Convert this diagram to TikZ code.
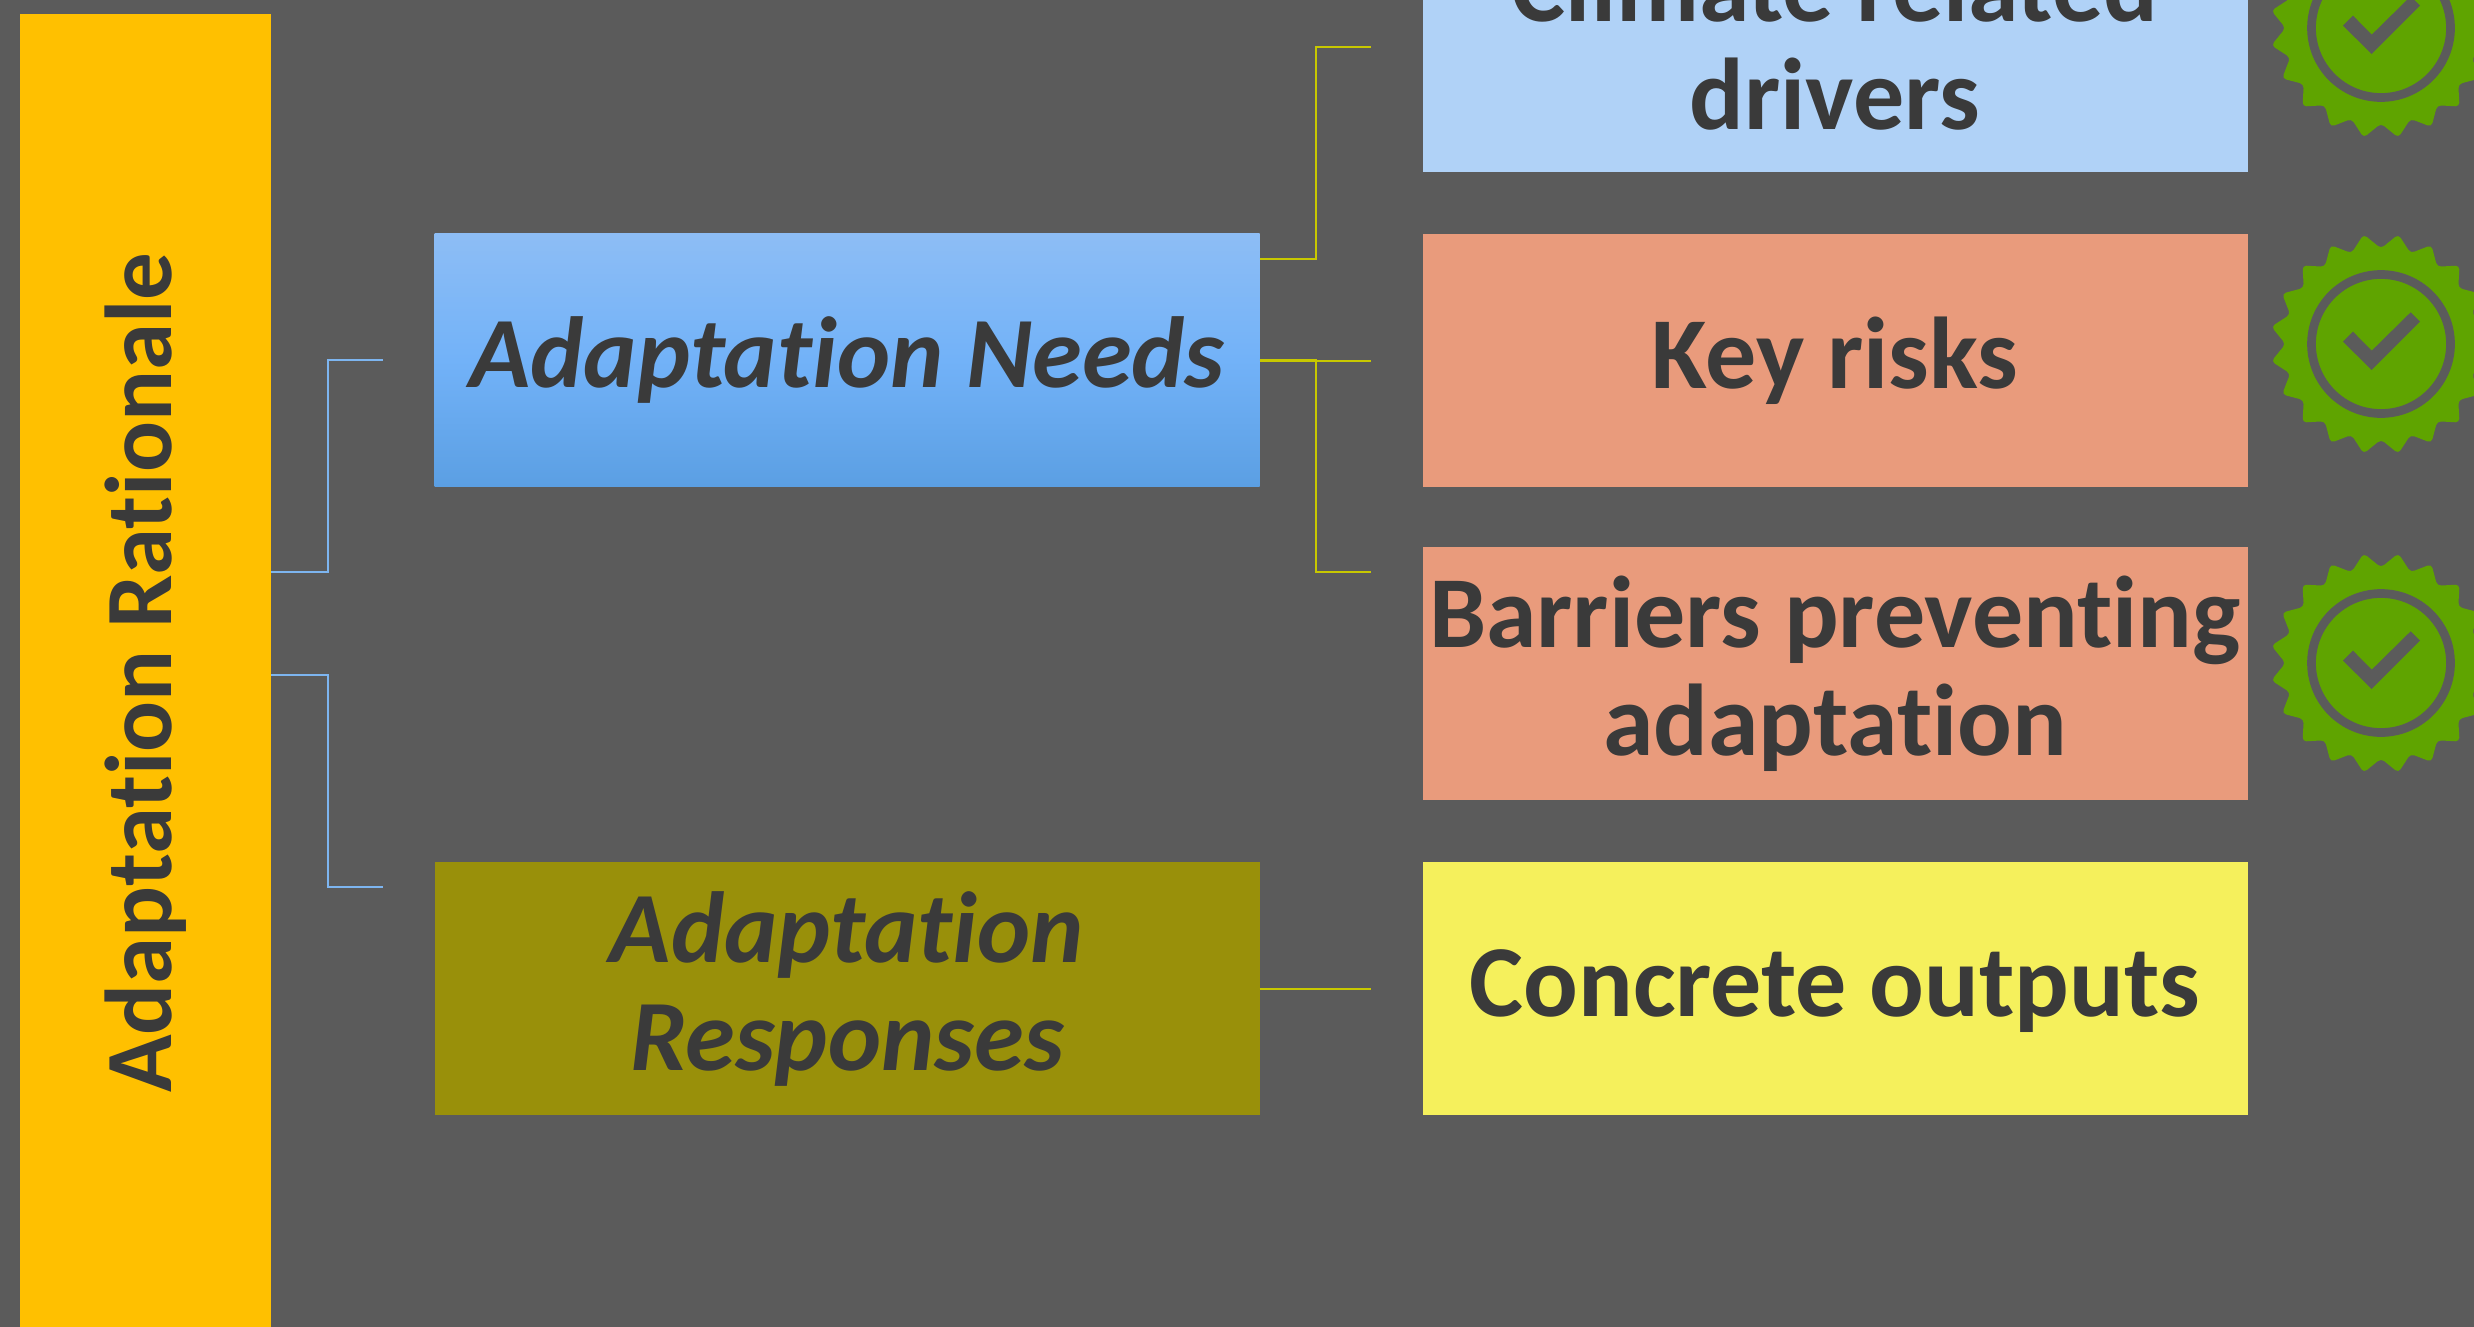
\documentclass[tikz,border=0pt]{standalone}
\usepackage{fontspec}
\setmainfont[Ligatures=NoCommon]{Carlito}
\definecolor{slate}{HTML}{5B5B5B}
\definecolor{ink}{HTML}{3A3A3A}
\definecolor{amber}{HTML}{FFC000}
\definecolor{skyshade1}{HTML}{8DBDF5}
\definecolor{skyshade2}{HTML}{72B2F8}
\definecolor{skyshade3}{HTML}{5B9FE3}
\definecolor{skypale}{HTML}{B0D2F7}
\definecolor{salmon}{HTML}{E99B7C}
\definecolor{olive}{HTML}{99900A}
\definecolor{lemon}{HTML}{F5F05C}
\definecolor{leaf}{HTML}{5FA400}
\definecolor{wirey}{HTML}{C8C800}
\definecolor{wireb}{HTML}{7DB5F0}
\tikzset{
  cardtext/.style={text=ink,font=\fontsize{102}{108}\bfseries\selectfont,align=center,inner sep=0pt},
  cardwide/.style={cardtext,minimum width=825pt,minimum height=252.5pt},
  wirebar/.style={draw=wireb,line width=2pt},
  wirebox/.style={draw=wirey,line width=2pt},
  badge/.pic={
    \fill[leaf,rounded corners=4pt]
      (9:111) \foreach \a in {18,36,...,342} {-- (\a:95.5) -- (\a+9:111)} -- (0:95.5) -- cycle;
    \draw[slate,line width=8.7pt] (0,0) circle (69.5);
    \fill[slate] (-38,-2.3) -- (-28,-12.3) -- (-9.3,6.7) -- (29.7,-31.7) -- (39,-22.3) -- (-9.3,26) -- cycle;
  }
}
\begin{document}
\begin{tikzpicture}[x=1pt,y=-1pt]

\useasboundingbox (0,0) rectangle (2474,1326);
\fill[slate] (-5,-5) rectangle (2480,1335);

\node[cardtext,fill=amber,minimum width=251pt,minimum height=1330pt] (bar) at (145.5,679) {};
\node[cardtext,rotate=90,font=\fontsize{95}{108}\bfseries\selectfont] (rationale) at (146,673) {Adaptation Rationale};

\node[cardwide,top color=skyshade1,bottom color=skyshade3,middle color=skyshade2,font=\fontsize{101}{108}\bfseries\itshape\selectfont] (needs) at (847,360) {Adaptation Needs};
\node[cardwide,fill=olive,font=\fontsize{101}{108}\bfseries\itshape\selectfont] (responses) at (847,988.5) {Adaptation\\Responses};

\node[cardwide,fill=skypale,text depth=11pt] (drivers) at (1835,45.5) {Climate related\\drivers};
\node[cardwide,fill=salmon] (risks) at (1835,360.5) {Key risks};
\node[cardwide,fill=salmon] (barriers) at (1835,673.5) {Barriers preventing\\adaptation};
\node[cardwide,fill=lemon,text height=76pt,text depth=19.5pt] (outputs) at (1835,988.5) {Concrete outputs};

\pic at (2381,28) {badge};
\pic at (2381,344) {badge};
\pic at (2381,663) {badge};

\coordinate (barout1) at (271,572);
\coordinate (barout2) at (271,674.5);
\coordinate (needsin) at (383,360);
\coordinate (responsesin) at (383,887);
\coordinate (needsout1) at (1260,259);
\coordinate (needsout2) at (1260,361);
\coordinate (needsout3) at (1260,359.5);
\coordinate (driversin) at (1371,47);
\coordinate (risksin) at (1371,361);
\coordinate (barriersin) at (1371,572);
\coordinate (outputsin) at (1371,988.5);

\draw[wirebar] (barout1 -| bar.east) -- ++(56.5,0) |- (needsin);
\draw[wirebar] (barout2 -| bar.east) -- ++(56.5,0) |- (responsesin);

\draw[wirebox] (needsout1 -| needs.east) -- ++(56,0) |- (driversin);
\draw[wirebox] (needsout2 -| needs.east) -- (risksin);
\draw[wirebox] (needsout3 -| needs.east) -- ++(56,0) |- (barriersin);
\draw[wirebox] (responses.east) -- (outputsin);

\end{tikzpicture}
\end{document}
